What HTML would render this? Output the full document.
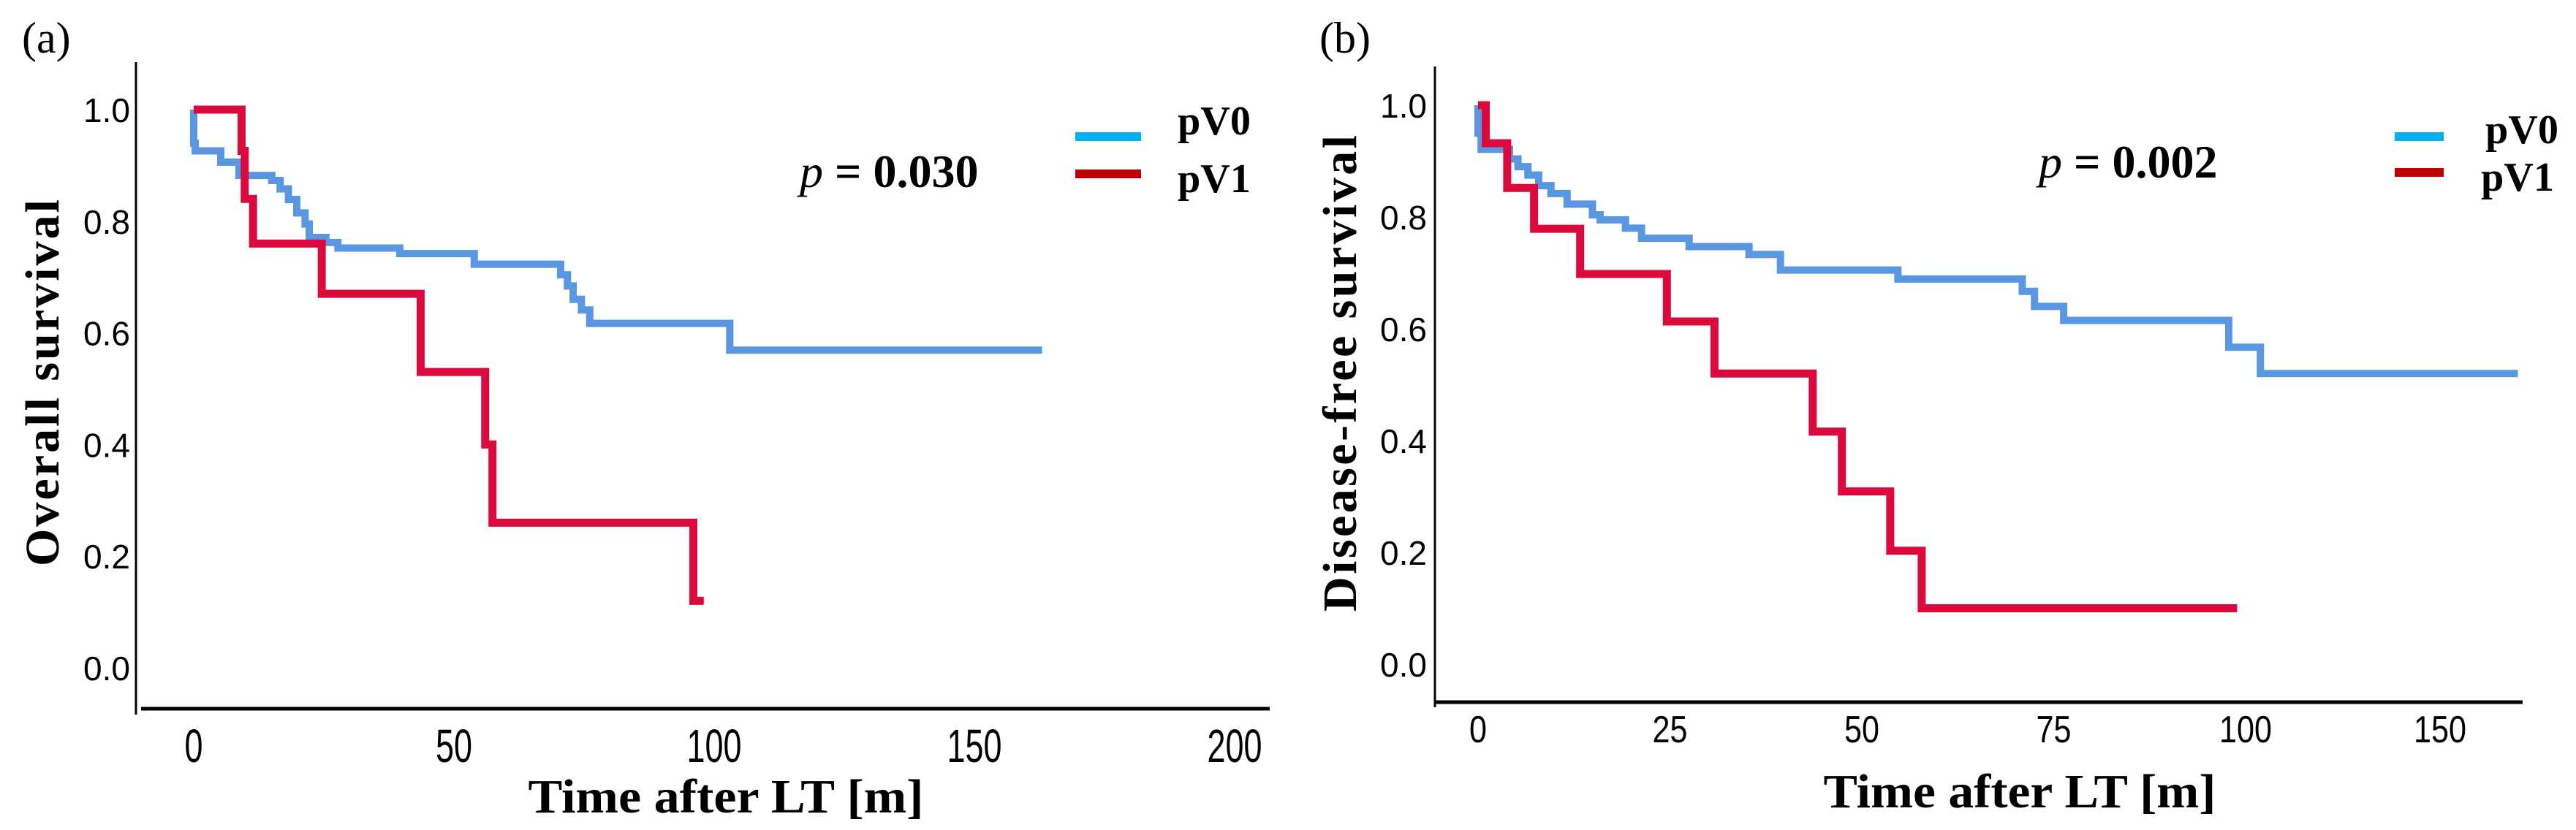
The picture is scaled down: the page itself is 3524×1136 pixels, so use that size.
<!DOCTYPE html>
<html><head><meta charset="utf-8"><style>
html,body{margin:0;padding:0;background:#fff;}
svg{display:block;}
.tk{font-family:"Liberation Sans",sans-serif;fill:#000;}
.sf{font-family:"Liberation Serif",serif;font-weight:bold;fill:#000;}
</style></head><body>
<svg id="fig" width="3524" height="1136" viewBox="0 0 3524 1136" xmlns="http://www.w3.org/2000/svg"></svg>
<script>
// ---- Panel (a) data: Overall survival ----
const aPV0Times = [0, 0.3, 5.2, 8.7, 15, 16.6, 18.2, 19.8, 21.4, 22.2, 25.4, 27.7, 39.6, 53.9, 70.5, 71.8, 72.9, 74.5, 76.1, 103];
const aPV0Surv  = [0.94, 0.926, 0.906, 0.882, 0.873, 0.858, 0.839, 0.815, 0.795, 0.771, 0.762, 0.752, 0.742, 0.723, 0.704, 0.684, 0.66, 0.641, 0.617, 0.569];
const aPV0End = 163;
const aPV1Times = [9.2, 9.8, 11.4, 24.6, 43.6, 56, 57.4, 96];
const aPV1Surv  = [0.926, 0.84, 0.76, 0.67, 0.53, 0.40, 0.26, 0.12];
const aPV1End = 98;
const aXTicks = [0, 50, 100, 150, 200];
const aYTicks = [0.0, 0.2, 0.4, 0.6, 0.8, 1.0];
// ---- Panel (b) data: Disease-free survival ----
const bPV0Times = [0, 0.4, 4.1, 5.2, 6.5, 7.9, 9.5, 11.6, 14.9, 15.9, 19.2, 21.3, 27.5, 35.3, 39.4, 54.7, 70.9, 72.5, 76.3, 97.8, 103.8];
const bPV0Surv  = [0.95, 0.921, 0.904, 0.89, 0.875, 0.856, 0.842, 0.823, 0.804, 0.795, 0.78, 0.762, 0.747, 0.733, 0.705, 0.689, 0.667, 0.64, 0.615, 0.567, 0.52];
const bPV0End = 170;
const bPV1Times = [1, 3.8, 7.3, 13.3, 24.6, 30.8, 43.6, 47.4, 53.7, 57.8];
const bPV1Surv  = [0.932, 0.852, 0.779, 0.698, 0.613, 0.52, 0.416, 0.309, 0.203, 0.1];
const bPV1End = 98.9;
const bXTicks = [0, 25, 50, 75, 100, 150];
const bYTicks = [0.0, 0.2, 0.4, 0.6, 0.8, 1.0];

const NS = "http://www.w3.org/2000/svg";
const svg = document.getElementById("fig");
function mk(tag, attrs, parent, txt){
  const e = document.createElementNS(NS, tag);
  for (const k in attrs) e.setAttribute(k, attrs[k]);
  if (txt !== undefined) e.textContent = txt;
  (parent || svg).appendChild(e);
  return e;
}
function stepPath(times, surv, end, xf, yf){
  let d = "M" + xf(0) + "," + yf(1);
  for (let i = 0; i < times.length; i++){
    d += " H" + xf(times[i]) + " V" + yf(surv[i]);
  }
  d += " H" + xf(end);
  return d;
}

// scales
const axA = v => 265 + v * 7.12;
const ayA = v => 914 - v * 764;
const axB = v => v <= 100 ? 2022 + v * 10.5 : 3072 + (v - 100) * 5.32;
const ayB = v => 909 - v * 765;

function panel(cfg){
  const g = mk("g", {});
  
  
  // axes
  const ya = mk("line", {x1:cfg.yAxisX, y1:cfg.yAxisTop, x2:cfg.yAxisX, y2:cfg.yAxisBot, stroke:"#000","stroke-width":3}, g);
  
  
  const xa = mk("line", {x1:cfg.xAxisL, y1:cfg.xAxisY, x2:cfg.xAxisR, y2:cfg.xAxisY, stroke:"#000","stroke-width":5}, g);
  
  
  // y ticks
  cfg.yTicks.forEach(v => {
    const t = mk("text", {x:cfg.yLabelRight, y:cfg.ay(v) + 17, "text-anchor":"end", "font-size":46, class:"tk"}, g, v.toFixed(1));
    
    
  });
  cfg.xTicks.forEach(v => {
    const s = String(v);
    const t = mk("text", {x:cfg.ax(v), y:cfg.xTickY, "text-anchor":"middle", "font-size":cfg.xTickFont, class:"tk", textLength: s.length * cfg.digitW, lengthAdjust:"spacingAndGlyphs"}, g, s);
    
    
  });
  // curves
  const p0 = mk("path", {d: stepPath(cfg.t0, cfg.s0, cfg.e0, cfg.ax, cfg.ay), fill:"none", stroke:"#5a97e3", "stroke-width":10}, g);
  
  
  const p1 = mk("path", {d: stepPath(cfg.t1, cfg.s1, cfg.e1, cfg.ax, cfg.ay), fill:"none", stroke:"#dc0a3c", "stroke-width":11}, g);
  
  
  // titles
  const yt = mk("text", {transform:"translate(" + cfg.yTitleX + "," + cfg.yTitleY + ") rotate(-90)", "text-anchor":"middle", "font-size":66, class:"sf", textLength:cfg.yTitleLen, lengthAdjust:"spacing"}, g, cfg.yTitle);
  
  
  const xt = mk("text", {x:cfg.xTitleX, y:cfg.xTitleY, "text-anchor":"middle", "font-size":66, class:"sf", textLength:cfg.xTitleLen, lengthAdjust:"spacingAndGlyphs"}, g, "Time after LT [m]");
  
  
  const pl = mk("text", {x:cfg.panelX, y:72, "font-size":60, class:"sf", style:"font-weight:normal"}, g, cfg.panelLabel);
  
  
  const pv = mk("text", {x:cfg.pX, y:cfg.pY, "font-size":64, class:"sf"}, g);
  
  
  const it = mk("tspan", {"font-style":"italic", "font-weight":"normal"}, pv, "p");
  mk("tspan", {}, pv, " = " + cfg.pVal);
  // legend
  const lg = mk("g", {}, g);
  
  
  const s0 = mk("rect", {x:cfg.legX, y:cfg.leg0Y - 6, width:cfg.legW, height:12, fill:"#00b0f0"}, lg);
  
  
  const s1 = mk("rect", {x:cfg.legX, y:cfg.leg1Y - 6, width:cfg.legW, height:12, fill:"#c00000"}, lg);
  
  
  const l0 = mk("text", {x:cfg.lab0X, y:cfg.lab0Y, "font-size":56, class:"sf", textLength:100, lengthAdjust:"spacingAndGlyphs"}, lg, "pV0");
  
  
  const l1 = mk("text", {x:cfg.lab1X, y:cfg.lab1Y, "font-size":56, class:"sf", textLength:100, lengthAdjust:"spacingAndGlyphs"}, lg, "pV1");
  
  
}

panel({name:"panel-a-overall-survival", ax:axA, ay:ayA, yTicks:aYTicks, xTicks:aXTicks,
  yAxisX:186, yAxisTop:85, yAxisBot:978, xAxisL:193, xAxisR:1737, xAxisY:970,
  yLabelRight:178, xTickY:1043, xTickFont:64, digitW:25,
  t0:aPV0Times, s0:aPV0Surv, e0:aPV0End, t1:aPV1Times, s1:aPV1Surv, e1:aPV1End,
  yTitle:"Overall survival", yTitleX:80, yTitleY:524, yTitleLen:502,
  xTitleX:993, xTitleY:1112, xTitleLen:541,
  panelLabel:"(a)", panelX:30, pX:1094, pY:256, pVal:"0.030",
  legX:1471, leg0Y:187, leg1Y:238, legW:90, lab0X:1611, lab0Y:184, lab1X:1611, lab1Y:263});

panel({name:"panel-b-disease-free-survival", ax:axB, ay:ayB, yTicks:bYTicks, xTicks:bXTicks,
  yAxisX:1963, yAxisTop:91, yAxisBot:968, xAxisL:1963, xAxisR:3451, xAxisY:961,
  yLabelRight:1952, xTickY:1016, xTickFont:52, digitW:24,
  t0:bPV0Times, s0:bPV0Surv, e0:bPV0End, t1:bPV1Times, s1:bPV1Surv, e1:bPV1End,
  yTitle:"Disease-free survival", yTitleX:1855, yTitleY:511, yTitleLen:652,
  xTitleX:2763, xTitleY:1105, xTitleLen:537,
  panelLabel:"(b)", panelX:1805, pX:2789, pY:243, pVal:"0.002",
  legX:3276, leg0Y:187, leg1Y:236, legW:67, lab0X:3400, lab0Y:196, lab1X:3394, lab1Y:261});
</script>
</body></html>
